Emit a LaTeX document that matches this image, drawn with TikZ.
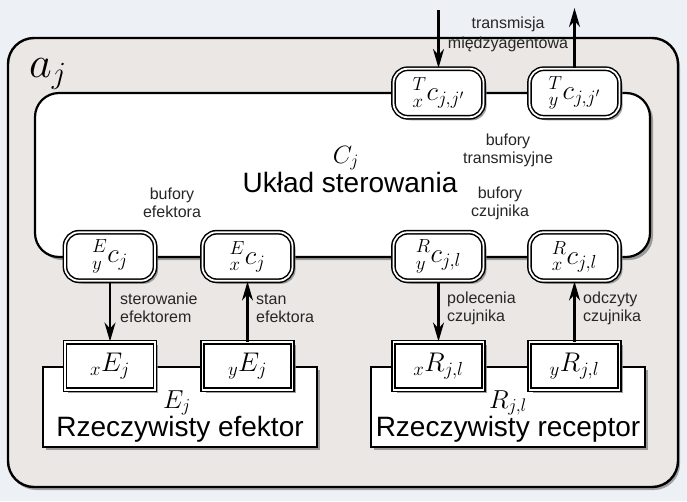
\RequirePackage{fix-cm}
\documentclass[tikz,border=0pt]{standalone}
\usepackage{fontspec}
\setmainfont{Liberation Sans}
\usetikzlibrary{arrows.meta,shadows}
\definecolor{bg}{HTML}{EDF1F6}
\definecolor{agent}{HTML}{EBE7E4}
\definecolor{shd}{HTML}{808080}
\newcommand\msz{\fontsize{27}{29}\selectfont}
\newcommand\ssz{\fontsize{16}{18}\selectfont}
\newcommand\bsz{\fontsize{28}{30}\selectfont}
\begin{document}
\begin{tikzpicture}[x=1pt,y=-1pt,
  shad/.style={drop shadow={shadow xshift=3pt,shadow yshift=-3pt,fill=shd,opacity=.75}},
  buf/.style={draw,line width=1.5pt,double=white,double distance=1.8pt,
    rounded corners=14pt,fill=white,minimum width=90pt,minimum height=48.5pt,
    inner sep=0pt,shad,font=\msz},
  port/.style={draw,line width=1.5pt,double=white,double distance=1.8pt,
    fill=white,minimum width=90pt,minimum height=47.5pt,inner sep=0pt,shad,font=\msz},
  lbl/.style={inner sep=0pt,font=\ssz,text=black!85},
  arr/.style={line width=2.2pt,-{Stealth[length=19pt,width=11pt,inset=6pt]}}
]
\fill[bg] (0,0) rectangle (687,501);
\useasboundingbox (0,0) rectangle (687,501);
% agent box
\draw[line width=2.4pt,fill=agent,rounded corners=26pt,
  drop shadow={shadow xshift=2pt,shadow yshift=-3pt,fill=shd,opacity=.7}]
  (8,38) rectangle (678,487);
\node[inner sep=0pt,anchor=base west,font=\fontsize{44}{46}\selectfont] (aj) at (29,77) {$a_j$};
% control system
\draw[line width=2.2pt,fill=white,rounded corners=24pt,shad] (35,93) rectangle (650,257);
% effector and receptor
\draw[line width=2.2pt,fill=white,shad] (43,367) rectangle (317,447);
\draw[line width=2.2pt,fill=white,shad] (371,367) rectangle (645,447);
% texts of big boxes
\node[inner sep=0pt,anchor=base,font=\fontsize{25}{27}\selectfont] (Cj) at (346,163) {$C_j$};
\node[inner sep=0pt,anchor=base,font=\bsz] (uklad) at (350,192) {Układ sterowania};
\node[inner sep=0pt,anchor=base,font=\fontsize{26}{28}\selectfont] (Ej) at (177,408) {$E_j$};
\node[inner sep=0pt,anchor=base,font=\bsz] (ef) at (180,436) {Rzeczywisty efektor};
\node[inner sep=0pt,anchor=base,font=\fontsize{26}{28}\selectfont] (Rj) at (508,408) {$R_{j,l}$};
\node[inner sep=0pt,anchor=base,font=\bsz] (rc) at (508,436) {Rzeczywisty receptor};
% buffers
\node[buf] (Tx) at (438.5,93) {${}^{T}_{x}c_{j,j'}$};
\node[buf] (Ty) at (574.5,93) {${}^{T}_{y}c_{j,j'}$};
\node[buf] (Ey) at (110,256.5) {${}^{E}_{y}c_{j}$};
\node[buf] (Ex) at (247.5,256.5) {${}^{E}_{x}c_{j}$};
\node[buf] (Ry) at (438.5,256.5) {${}^{R}_{y}c_{j,l}$};
\node[buf] (Rx) at (574.5,256.5) {${}^{R}_{x}c_{j,l}$};
% ports
\node[port] (xE) at (110,366) {${}_{x}E_{j}$};
\node[port] (yE) at (247.5,366) {${}_{y}E_{j}$};
\node[port] (xR) at (438.5,366) {${}_{x}R_{j,l}$};
\node[port] (yR) at (574.5,366) {${}_{y}R_{j,l}$};
% arrows
\coordinate (tin) at (438.5,10);
\coordinate (tout) at (574.5,8);
\draw[arr] (tin) -- (Tx.north);
\draw[arr] (Ty.north) -- (tout);
\draw[arr] (Ey.south) -- (xE.north);
\draw[arr] (yE.north) -- (Ex.south);
\draw[arr] (Ry.south) -- (xR.north);
\draw[arr] (yR.north) -- (Rx.south);
% small labels
\node[lbl,align=center,font=\fontsize{16}{20}\selectfont] (ltr) at (508,34) {transmisja\\międzyagentowa};
\node[lbl,align=center] (lbt) at (508,150) {bufory\\transmisyjne};
\node[lbl,align=center] (lbe) at (172,203) {bufory\\efektora};
\node[lbl,align=center] (lbc) at (500,203) {bufory\\czujnika};
\node[lbl,align=left,anchor=west] (lse) at (120,308) {sterowanie\\efektorem};
\node[lbl,align=left,anchor=west] (lst) at (256,308) {stan\\efektora};
\node[lbl,align=left,anchor=west] (lpc) at (447,308) {polecenia\\czujnika};
\node[lbl,align=left,anchor=west] (loc) at (583,308) {odczyty\\czujnika};
\end{tikzpicture}
\end{document}
